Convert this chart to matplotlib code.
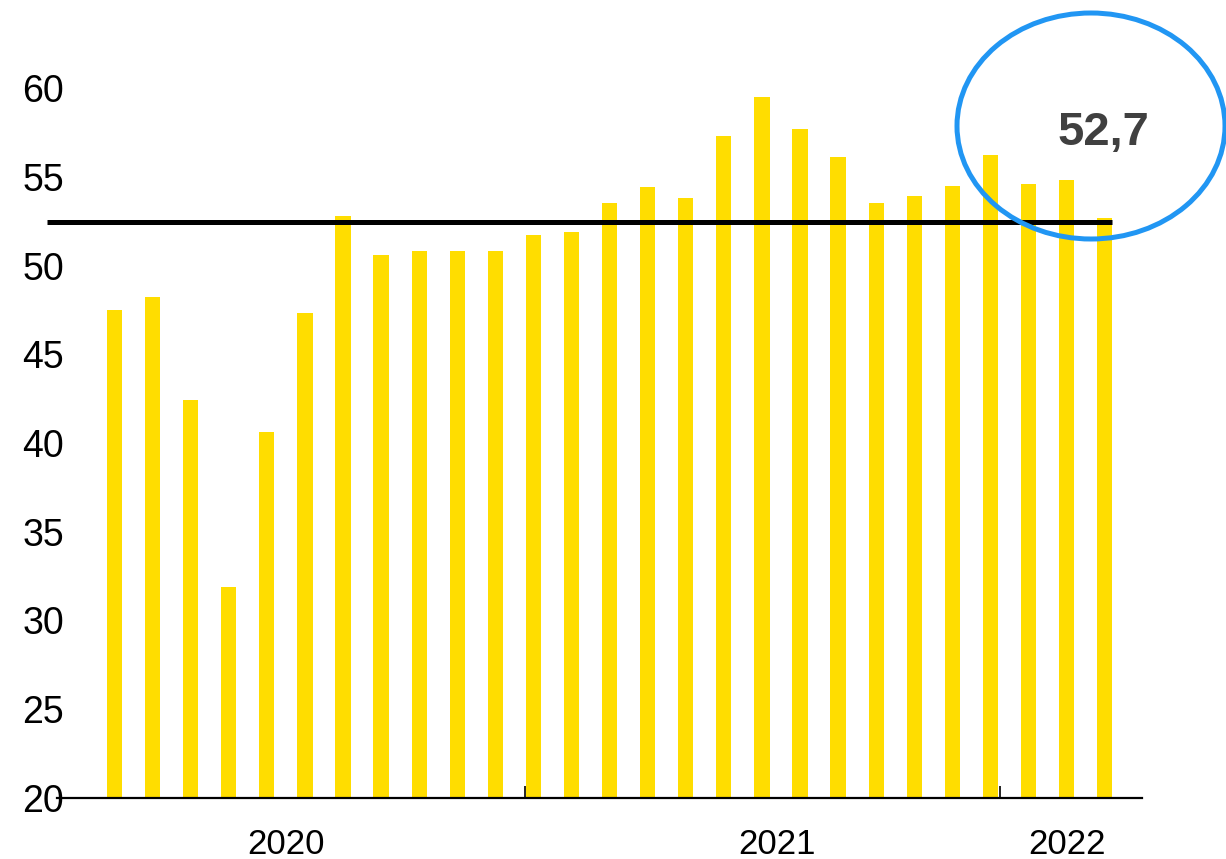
import matplotlib
matplotlib.use("Agg")
import matplotlib.pyplot as plt
from matplotlib.patches import Ellipse

plt.rcParams['font.family'] = ['Liberation Sans', 'DejaVu Sans']

# Data (monthly values, 27 bars)
values = [47.5, 48.2, 42.4, 31.9, 40.6, 47.3, 52.8, 50.6, 50.8, 50.8, 50.8,
          51.7, 51.9, 53.5, 54.4, 53.8, 57.3, 59.5, 57.7, 56.1, 53.5, 53.9,
          54.5, 56.2, 54.6, 54.8, 52.7]
reference_level = 52.45
year_labels = ["2020", "2021", "2022"]
year_label_pos = [4.5, 17.4, 25.0]
year_tick_pos = [10.78, 23.25]
yticks = [20, 25, 30, 35, 40, 45, 50, 55, 60]
highlight_text = "52,7"

W, H = 1226, 859
fig = plt.figure(figsize=(W / 100, H / 100), dpi=100)
ax = fig.add_axes([57 / W, 61 / H, (1142 - 57) / W, (842 - 61) / H])

x = list(range(len(values)))
base = 20
ax.bar(x, [v - base for v in values], bottom=base, width=0.40, color='#FFDD00', zorder=2)

ax.set_xlim(-1.51, 26.98)
ax.set_ylim(20, 64)

# reference line
ax.plot([-1.77, 26.19], [reference_level, reference_level], color='black', lw=3.6,
        solid_capstyle='butt', clip_on=False, zorder=3)

for s in ['top', 'right', 'left']:
    ax.spines[s].set_visible(False)
ax.spines['bottom'].set_linewidth(1.6)
ax.spines['bottom'].set_zorder(4)

ax.set_yticks(yticks)
ax.set_yticklabels([str(t) for t in yticks])
ax.tick_params(axis='y', length=0, pad=-5, labelsize=27)
for lab in ax.get_yticklabels():
    lab.set_zorder(1)

ax.set_xticks(year_tick_pos)
ax.set_xticklabels([])
ax.tick_params(axis='x', direction='in', length=8.6, width=1.2, color='black')

for lbl, pos in zip(year_labels, year_label_pos):
    ax.text(pos, -0.060, lbl, transform=ax.get_xaxis_transform(), ha='center',
            va='center', fontsize=25, color='black')

# highlight ellipse and value
ell = Ellipse((1091 / W, (H - 126) / H), 268 / W, 226 / H, transform=fig.transFigure,
              fill=False, edgecolor='#2196F3', lw=3.6, zorder=10)
fig.patches.append(ell)
fig.text(1103 / W, (H - 133) / H, highlight_text, ha='center', va='center',
         fontsize=34, fontweight='bold', color='#404040')

fig.savefig('out.png', dpi=100)
